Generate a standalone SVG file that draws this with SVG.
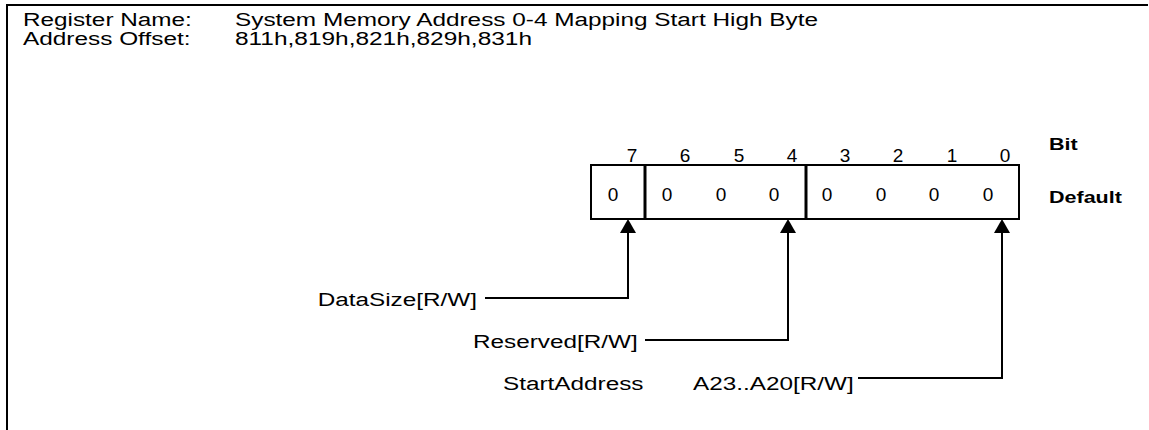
<svg xmlns="http://www.w3.org/2000/svg" width="1149" height="430" viewBox="0 0 1149 430">
<style>
text{font-family:"Liberation Sans",Arial,sans-serif;font-size:18px;fill:#000}
.b{font-weight:bold;font-size:17px}
.d{font-size:19px;text-anchor:middle}
.ln{fill:none;stroke:#000;stroke-width:2}
.dv{stroke:#000;stroke-width:3}
</style>
<defs>
<marker id="ah" viewBox="0 0 14 16" refX="0" refY="8" markerWidth="14" markerHeight="16" markerUnits="userSpaceOnUse" orient="auto"><path d="M0,0 L14,8 L0,16 z" fill="#000"/></marker>
</defs>
<g id="frame">
<path class="ln" d="M7,430 V5 H1148"/>
</g>
<g id="header">
<text x="23" y="26" textLength="168.8" lengthAdjust="spacingAndGlyphs">Register Name:</text>
<text x="23" y="45" textLength="167.5" lengthAdjust="spacingAndGlyphs">Address Offset:</text>
<text x="235" y="26" textLength="583" lengthAdjust="spacingAndGlyphs">System Memory Address 0-4 Mapping Start High Byte</text>
<text x="235" y="45" textLength="297" lengthAdjust="spacingAndGlyphs">811h,819h,821h,829h,831h</text>
</g>
<g id="register">
<rect x="591" y="165" width="428" height="54" class="ln"/>
<line x1="645" y1="165" x2="645" y2="219" class="dv"/>
<line x1="806" y1="165" x2="806" y2="219" class="dv"/>
<text class="d" x="632" y="162">7</text>
<text class="d" x="685" y="162">6</text>
<text class="d" x="739" y="162">5</text>
<text class="d" x="792" y="162">4</text>
<text class="d" x="845" y="162">3</text>
<text class="d" x="898" y="162">2</text>
<text class="d" x="952" y="162">1</text>
<text class="d" x="1005" y="162">0</text>
<text class="d" x="613" y="201">0</text>
<text class="d" x="667" y="201">0</text>
<text class="d" x="721" y="201">0</text>
<text class="d" x="774" y="201">0</text>
<text class="d" x="827" y="201">0</text>
<text class="d" x="881" y="201">0</text>
<text class="d" x="934" y="201">0</text>
<text class="d" x="988" y="201">0</text>
<text class="b" x="1049" y="150" textLength="28.7" lengthAdjust="spacingAndGlyphs">Bit</text>
<text class="b" x="1049" y="203" textLength="72.9" lengthAdjust="spacingAndGlyphs">Default</text>
</g>
<g id="field-datasize">
<text x="317.7" y="306" textLength="159.3" lengthAdjust="spacingAndGlyphs">DataSize[R/W]</text>
</g>
<g id="field-reserved">
<text x="473" y="348" textLength="164.7" lengthAdjust="spacingAndGlyphs">Reserved[R/W]</text>
</g>
<g id="field-startaddress">
<text x="503" y="390" textLength="140.5" lengthAdjust="spacingAndGlyphs">StartAddress</text>
<text x="693" y="390" textLength="160.7" lengthAdjust="spacingAndGlyphs">A23..A20[R/W]</text>
</g>
<g id="connectors">
<path class="ln" d="M485,298 H628 V233" marker-end="url(#ah)"/>
<path class="ln" d="M645,340 H788 V233" marker-end="url(#ah)"/>
<path class="ln" d="M858,378 H1002 V233" marker-end="url(#ah)"/>
</g>
</svg>
